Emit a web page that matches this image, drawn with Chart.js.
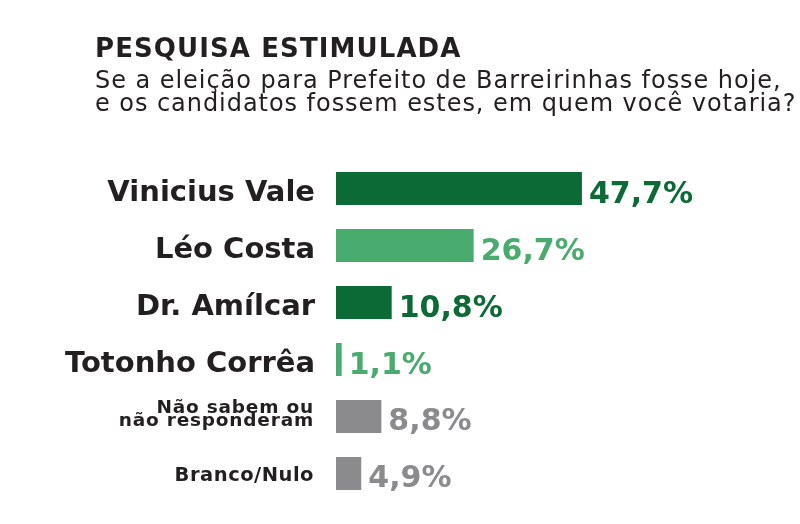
<!DOCTYPE html>
<html>
<head>
<meta charset="utf-8">
<script src="https://cdn.jsdelivr.net/npm/chart.js@4.4.1/dist/chart.umd.min.js"></script>
<style>
  html, body { margin: 0; padding: 0; background: #ffffff; }
  #wrap { position: relative; width: 800px; height: 524px; overflow: hidden; }
  #head { position: absolute; left: 95px; top: 0; color: #231f20; font-family: "DejaVu Sans", sans-serif; }
  #title { position: absolute; left: 0; top: 34px; font-size: 26px; font-weight: 700; white-space: nowrap; letter-spacing: 1.1px; line-height: 28px; }
  .sub { position: absolute; left: 0; font-size: 24px; font-weight: 400; white-space: nowrap; line-height: 24px; letter-spacing: 0.95px; }
  #sub1 { top: 67.7px; }
  #sub2 { top: 90.7px; }
  canvas { position: absolute; left: 0; top: 0; }
</style>
</head>
<body>
<div id="wrap">
  <canvas id="c" width="800" height="524"></canvas>
  <div id="head">
    <div id="title">PESQUISA ESTIMULADA</div>
    <div class="sub" id="sub1">Se a eleição para Prefeito de Barreirinhas fosse hoje,</div>
    <div class="sub" id="sub2">e os candidatos fossem estes, em quem você votaria?</div>
  </div>
</div>
<script>
// ---- data ----
const categories = [
  "Vinicius Vale",
  "Léo Costa",
  "Dr. Amílcar",
  "Totonho Corrêa",
  ["Não sabem ou", "não responderam"],
  "Branco/Nulo"
];
const values = [47.7, 26.7, 10.8, 1.1, 8.8, 4.9];

// ---- styles ----
const DARK = "#0b6a35", LIGHT = "#4aab6e", GRAY = "#8b8b8d";
const barColors = [DARK, LIGHT, DARK, LIGHT, GRAY, GRAY];
const TEXT = "#231f20";
const FONT = '"DejaVu Sans", sans-serif';

function fmt(v) { return v.toFixed(1).replace(".", ",") + "%"; }

const labelPlugin = {
  id: "labelPlugin",
  afterDatasetsDraw(chart) {
    const ctx = chart.ctx;
    const meta = chart.getDatasetMeta(0);
    const left = chart.chartArea.left;
    ctx.save();
    categories.forEach((lab, i) => {
      const bar = meta.data[i];
      const cy = bar.y;
      const major = i < 4;
      // category label
      ctx.fillStyle = TEXT;
      ctx.textAlign = "right";
      ctx.textBaseline = "alphabetic";
      if (major) {
        ctx.font = "700 29px " + FONT;
        ctx.letterSpacing = "0px";
        ctx.fillText(lab, left - 21, cy + 12.5);
      } else {
        const lines = Array.isArray(lab) ? lab : [lab];
        if (lines.length === 1) {
          ctx.font = "700 19.5px " + FONT;
          ctx.letterSpacing = "0.5px";
          ctx.fillText(lines[0], left - 22, cy + 7);
        } else {
          ctx.font = "700 18.5px " + FONT;
          ctx.letterSpacing = "0.8px";
          ctx.fillText(lines[0], left - 22, cy - 3.5);
          ctx.fillText(lines[1], left - 22, cy + 9.5);
        }
      }
      // value label
      ctx.letterSpacing = "0px";
      ctx.fillStyle = barColors[i];
      ctx.textAlign = "left";
      ctx.font = "700 30px " + FONT;
      ctx.fillText(fmt(values[i]), bar.x + 7, cy + (major ? 14.5 : 13));
    });
    ctx.restore();
  }
};

new Chart(document.getElementById("c"), {
  type: "bar",
  data: {
    labels: categories,
    datasets: [{
      data: values,
      backgroundColor: barColors,
      borderWidth: 0,
      barPercentage: 0.58,
      categoryPercentage: 1.0
    }]
  },
  options: {
    indexAxis: "y",
    responsive: false,
    animation: false,
    layout: { padding: { left: 336, right: 0, top: 160, bottom: 22 } },
    scales: {
      x: { display: false, min: 0, max: 90 },
      y: { display: false }
    },
    plugins: {
      legend: { display: false },
      tooltip: { enabled: false },
      title: { display: false }
    }
  },
  plugins: [labelPlugin]
});
</script>
</body>
</html>
